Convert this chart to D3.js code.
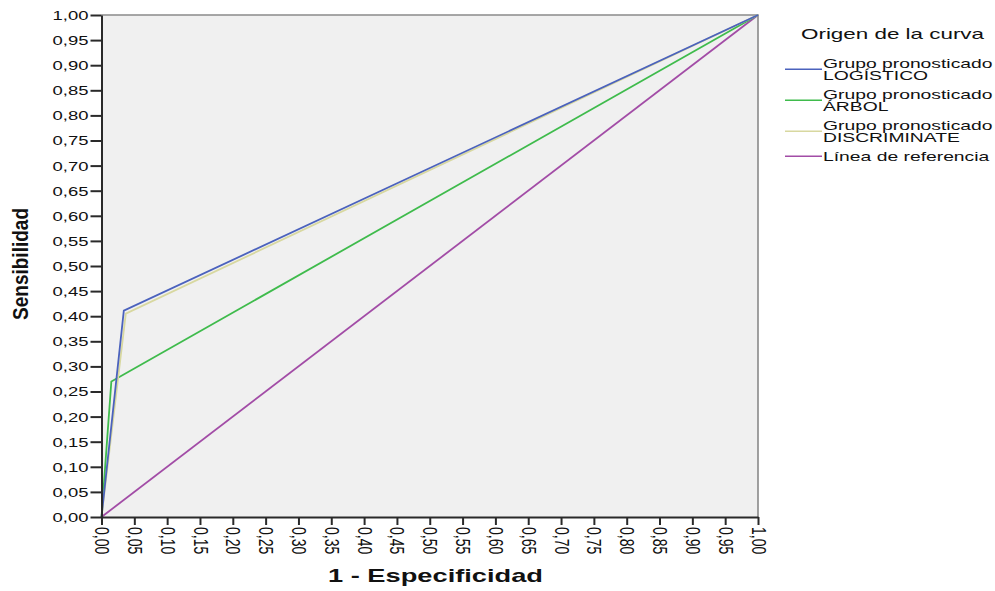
<!DOCTYPE html>
<html>
<head>
<meta charset="utf-8">
<script src="https://cdn.jsdelivr.net/npm/d3@7"></script>
<style>
  html, body { margin: 0; padding: 0; background: #fff; }
  svg { display: block; }
  text { font-family: "Liberation Sans", Arial, sans-serif; fill: #111; }
</style>
</head>
<body>
<svg id="chart" width="995" height="591"></svg>
<script>
// ROC curves: sensitivity vs 1 - specificity for each predicted group
const logisticoX = [0, 0.034, 1];
const logisticoY = [0, 0.411, 1];
const arbolX = [0, 0.015, 1];
const arbolY = [0, 0.270, 1];
const discriminateX = [0, 0.037, 1];
const discriminateY = [0, 0.405, 1];
const referenciaX = [0, 1];
const referenciaY = [0, 1];

const seriesNames = [
  ["Grupo pronosticado", "LOGÍSTICO"],
  ["Grupo pronosticado", "ÁRBOL"],
  ["Grupo pronosticado", "DISCRIMINATE"],
  ["Línea de referencia"]
];
const seriesColors = ["#4b62bd", "#3fbb4c", "#d8d8a0", "#a24ca6"];

const tickLabels = ["0,00","0,05","0,10","0,15","0,20","0,25","0,30","0,35","0,40","0,45",
  "0,50","0,55","0,60","0,65","0,70","0,75","0,80","0,85","0,90","0,95","1,00"];

const legendTitle = "Origen de la curva";
const xTitle = "1 - Especificidad";
const yTitle = "Sensibilidad";

const svg = d3.select("#chart");
const SX = 1.42; // horizontal glyph stretch used for all labels

const x = d3.scaleLinear().domain([0, 1]).range([101.5, 758]);
const y = d3.scaleLinear().domain([0, 1]).range([517, 15]);

// plot background and frame
svg.append("rect")
  .attr("x", x(0)).attr("y", y(1))
  .attr("width", x(1) - x(0)).attr("height", y(0) - y(1))
  .attr("fill", "#f0f0f0");
svg.append("path")
  .attr("d", `M${x(0)},${y(1)}H${x(1)}V${y(0)}`)
  .attr("fill", "none").attr("stroke", "#8a8a8a").attr("stroke-width", 1.6);

// series lines
const series = [
  { xs: logisticoX, ys: logisticoY },
  { xs: arbolX, ys: arbolY },
  { xs: discriminateX, ys: discriminateY },
  { xs: referenciaX, ys: referenciaY }
];
const line = d3.line().x(d => x(d[0])).y(d => y(d[1]));
const drawOrder = [3, 1, 2, 0];
drawOrder.forEach(i => {
  const s = series[i];
  svg.append("path")
    .datum(s.xs.map((v, k) => [v, s.ys[k]]))
    .attr("d", line)
    .attr("fill", "none")
    .attr("stroke", seriesColors[i])
    .attr("stroke-width", 1.8)
    .attr("stroke-linejoin", "miter");
});

const tickVals = tickLabels.map(s => +s.replace(",", "."));

// y axis
const gy = svg.append("g").attr("transform", `translate(${x(0)},0)`)
  .call(d3.axisLeft(y).tickValues(tickVals).tickFormat((d, i) => tickLabels[i]).tickSize(11).tickSizeOuter(0));
gy.selectAll("text")
  .attr("x", null).attr("dy", null)
  .attr("text-anchor", "end")
  .attr("dominant-baseline", "central")
  .attr("transform", `translate(-13,0) scale(${SX},1)`)
  .style("font-size", "13px")
  .style("font-family", "'Liberation Sans', Arial, sans-serif")
  .attr("fill", "#111");

// x axis
const gx = svg.append("g").attr("transform", `translate(0,${y(0)})`)
  .call(d3.axisBottom(x).tickValues(tickVals).tickFormat((d, i) => tickLabels[i]).tickSize(8).tickSizeOuter(0));
gx.selectAll("text")
  .attr("y", null).attr("dy", null)
  .attr("text-anchor", "start")
  .attr("dominant-baseline", "central")
  .attr("transform", `translate(0,10) scale(${SX},1) rotate(90)`)
  .style("font-size", "14px")
  .style("font-family", "'Liberation Sans', Arial, sans-serif")
  .attr("fill", "#111");

[gx, gy].forEach(g => {
  g.select(".domain").attr("stroke", "#2a2a2a").attr("stroke-width", 2);
  g.selectAll(".tick line").attr("stroke", "#2a2a2a").attr("stroke-width", 2);
});

// axis titles
svg.append("text")
  .attr("transform", `translate(435.5,582) scale(1.3,1)`)
  .attr("text-anchor", "middle")
  .attr("textLength", 215 / 1.3).attr("lengthAdjust", "spacingAndGlyphs")
  .style("font-size", "18px").style("font-weight", "bold")
  .text(xTitle);

svg.append("text")
  .attr("transform", `translate(28,264) scale(1.3,1) rotate(-90)`)
  .attr("text-anchor", "middle")
  .attr("textLength", 112).attr("lengthAdjust", "spacingAndGlyphs")
  .style("font-size", "17px").style("font-weight", "bold")
  .text(yTitle);

// legend
const legend = svg.append("g");
legend.append("text")
  .attr("transform", `translate(801,39) scale(${SX},1)`)
  .attr("textLength", 183 / SX).attr("lengthAdjust", "spacingAndGlyphs")
  .style("font-size", "15px")
  .text(legendTitle);

const firstBaselines = [68, 99, 130, 161];
const lineGap = 12;
seriesNames.forEach((lines, i) => {
  const b0 = firstBaselines[i];
  const top = b0 - 9.5;
  const bottom = b0 + (lines.length - 1) * lineGap;
  const cy = (top + bottom) / 2;
  legend.append("line")
    .attr("x1", 785).attr("x2", 822)
    .attr("y1", cy).attr("y2", cy)
    .attr("stroke", seriesColors[i]).attr("stroke-width", 1.6);
  lines.forEach((t, k) => {
    legend.append("text")
      .attr("transform", `translate(823,${b0 + k * lineGap}) scale(${SX},1)`)
      .style("font-size", "13.6px")
      .text(t);
  });
});
</script>
</body>
</html>
